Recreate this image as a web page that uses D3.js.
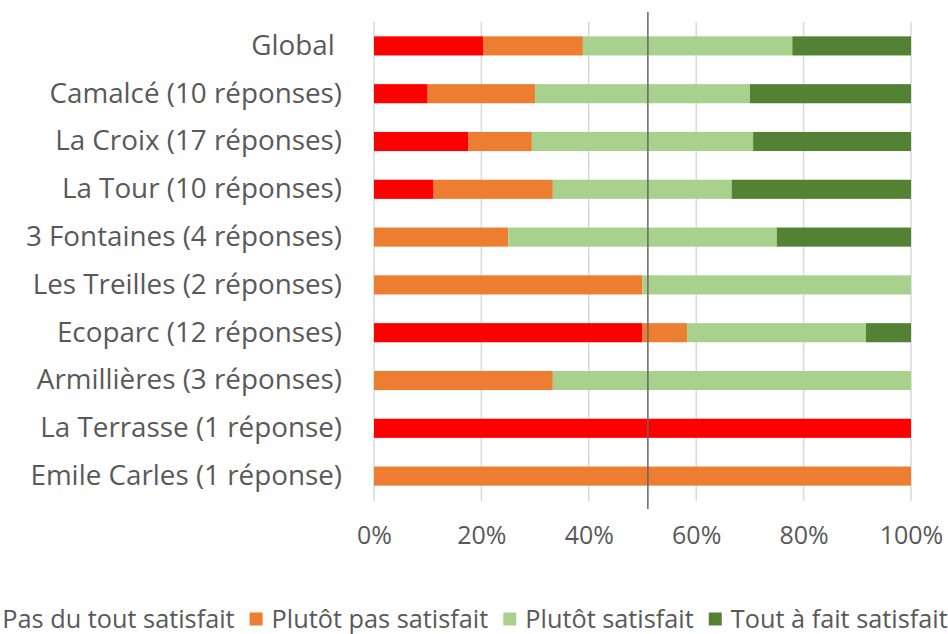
<!DOCTYPE html>
<html lang="fr">
<head>
<meta charset="utf-8">
<script src="https://d3js.org/d3.v7.min.js"></script>
<style>
  body { margin: 0; background: #fff; }
  text { font-family: "Open Sans", sans-serif; fill: #595959; white-space: pre; }
</style>
</head>
<body>
<script>
// categories (top to bottom)
const categories = [
  "Global ",
  "Camalcé (10 réponses)",
  "La Croix (17 réponses)",
  "La Tour (10 réponses)",
  "3 Fontaines (4 réponses)",
  "Les Treilles (2 réponses)",
  "Ecoparc (12 réponses)",
  "Armillières (3 réponses)",
  "La Terrasse (1 réponse)",
  "Emile Carles (1 réponse)"
];
const seriesNames = ["Pas du tout satisfait", "Plutôt pas satisfait", "Plutôt satisfait", "Tout à fait satisfait"];
const seriesColors = ["#ff0000", "#ed7d31", "#a9d18e", "#548235"];

// percentages
const pasDuTout   = [20.3, 10, 17.6, 11.1, 0, 0, 50, 0, 100, 0];
const plutotPas   = [18.6, 20, 11.8, 22.2, 25, 50, 8.3, 33.3, 0, 100];
const plutot      = [39.0, 40, 41.2, 33.3, 50, 50, 33.3, 66.7, 0, 0];
const toutAFait   = [22.1, 30, 29.4, 33.4, 25, 0, 8.4, 0, 0, 0];
const xTicks = [0, 0.2, 0.4, 0.6, 0.8, 1];
const refLine = 0.51;

const W = 948, H = 634;
const svg = d3.select("body").append("svg")
  .attr("width", W).attr("height", H);

const rows = categories.map((c, i) => ({
  cat: c,
  [seriesNames[0]]: pasDuTout[i],
  [seriesNames[1]]: plutotPas[i],
  [seriesNames[2]]: plutot[i],
  [seriesNames[3]]: toutAFait[i]
}));
const stacked = d3.stack().keys(seriesNames).offset(d3.stackOffsetExpand)(rows);

const x = d3.scaleLinear().domain([0, 1]).range([374, 911]);
const y = d3.scaleBand().domain(categories).range([22, 500])
  .paddingInner(0.6).paddingOuter(0.3);

// gridlines
svg.append("g").selectAll("line").data(xTicks).join("line")
  .attr("x1", d => x(d)).attr("x2", d => x(d))
  .attr("y1", 22).attr("y2", 501)
  .attr("stroke", "#d9d9d9").attr("stroke-width", 1.5);

// bars
svg.append("g").selectAll("g").data(stacked).join("g")
  .attr("fill", (d, i) => seriesColors[i])
  .selectAll("rect").data(d => d).join("rect")
  .attr("x", d => x(d[0]))
  .attr("width", d => Math.max(0, x(d[1]) - x(d[0])))
  .attr("y", d => y(d.data.cat))
  .attr("height", y.bandwidth());

// reference line
svg.append("line")
  .attr("x1", x(refLine)).attr("x2", x(refLine))
  .attr("y1", 12).attr("y2", 509)
  .attr("stroke", "#666").attr("stroke-width", 1.5);

// category labels
const yAxis = svg.append("g").attr("transform", "translate(342,0)")
  .call(d3.axisLeft(y).tickSize(0).tickPadding(0));
yAxis.select(".domain").remove();
yAxis.selectAll("text").attr("font-size", 27.8).attr("font-family", null).attr("fill", "#595959");

// x axis labels
const xAxis = svg.append("g").attr("transform", "translate(0,515)")
  .call(d3.axisBottom(x).tickValues(xTicks).tickFormat(d3.format(".0%")).tickSize(0).tickPadding(11));
xAxis.select(".domain").remove();
xAxis.selectAll("text").attr("font-size", 25).attr("font-family", null).attr("fill", "#595959");

// legend, laid out from measured text widths and centred (wider than the page, as in the original)
const sq = 13, gapText = 9, gapItem = 15, legendY = 619, legendCenter = 464;
const lg = svg.append("g").selectAll("g").data(seriesNames).join("g");
lg.append("rect").attr("x", 0).attr("y", -sq / 2).attr("width", sq).attr("height", sq)
  .attr("fill", (d, i) => seriesColors[i]);
lg.append("text").attr("x", sq + gapText).attr("y", 0).attr("dy", "0.35em")
  .attr("font-size", 25.3).text(d => d);
const widths = lg.nodes().map(n => n.querySelector("text").getComputedTextLength() + sq + gapText);
const total = d3.sum(widths) + gapItem * (widths.length - 1);
let cx = legendCenter - total / 2;
lg.attr("transform", (d, i) => {
  const t = `translate(${cx},${legendY})`;
  cx += widths[i] + gapItem;
  return t;
});
</script>
</body>
</html>
